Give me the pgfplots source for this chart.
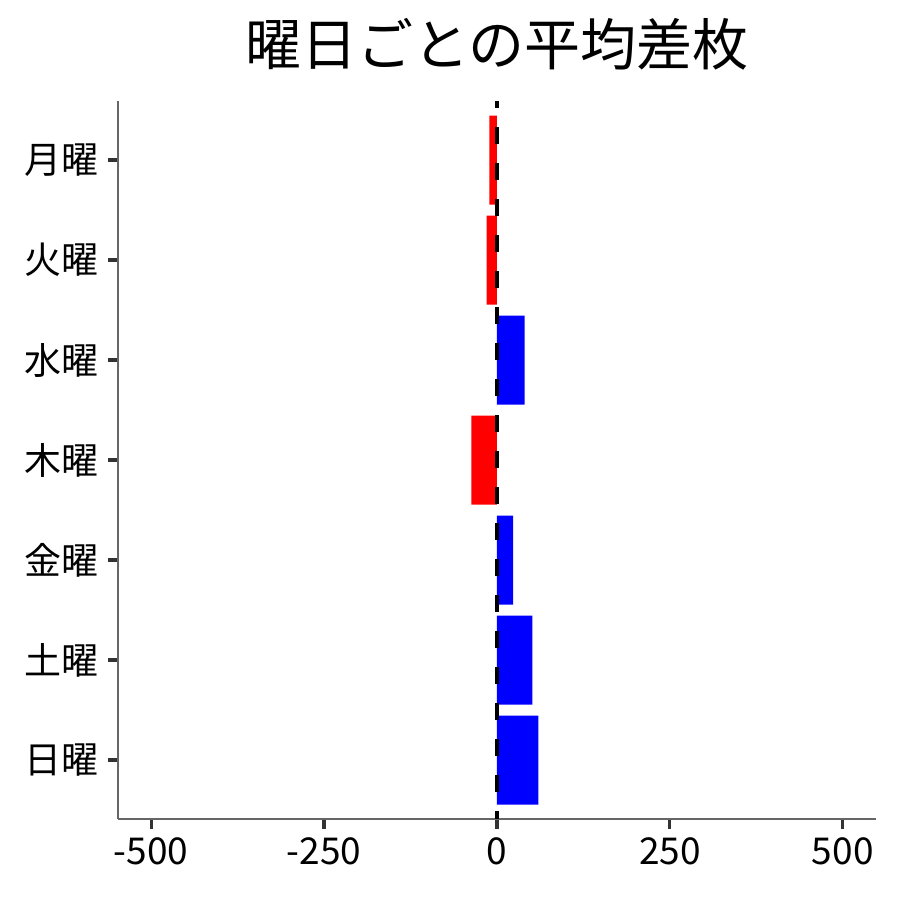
\documentclass[border=0pt]{standalone}
\usepackage{fontspec}
\setmainfont{Noto Sans CJK JP}
\usepackage{pgfplots}
\pgfplotsset{compat=1.18}

\begin{document}
\begin{tikzpicture}
	\begin{axis}[
		at={(0,0)}, anchor=south west,
		scale only axis,
		width=379pt, height=359pt,
		xmin=-548, xmax=548,
		ymin=-0.59, ymax=6.59,
		y dir=reverse,
		axis x line*=bottom,
		axis y line*=left,
		axis line style={draw=black!60, line width=0.6pt},
		tick align=outside,
		major tick length=5pt,
		every major tick/.append style={draw=black!80, line width=1.6pt},
		xtick={-500,-250,0,250,500},
		xticklabels={-500,-250,0,250,500},
		ytick={0,1,2,3,4,5,6},
		yticklabels={月曜,火曜,水曜,木曜,金曜,土曜,日曜},
		ticklabel style={font=\fontsize{18.5pt}{20pt}\selectfont},
		xticklabel style={yshift=-1pt},
		yticklabel style={xshift=-1pt},
		title={曜日ごとの平均差枚},
		title style={font=\fontsize{28pt}{30pt}\selectfont, yshift=6pt},
		clip=false,
	]
	% negative days
	\addplot[xbar, bar width=0.89, bar shift=0pt, fill=red, draw=none]
		coordinates {(-11,0) (-15,1) (-37,3)};
	% positive days
	\addplot[xbar, bar width=0.89, bar shift=0pt, fill=blue, draw=none]
		coordinates {(40,2) (23.5,4) (51,5) (60,6)};
	% zero line
	\addplot[black, line width=2pt, dash pattern=on 8.5pt off 9.5pt, dash phase=5pt]
		coordinates {(0,-0.59) (0,6.59)};
	\end{axis}
	\pgfresetboundingbox
	\path[use as bounding box] (-59pt,-40.5pt) rectangle (391pt,409.5pt);
\end{tikzpicture}
\end{document}
